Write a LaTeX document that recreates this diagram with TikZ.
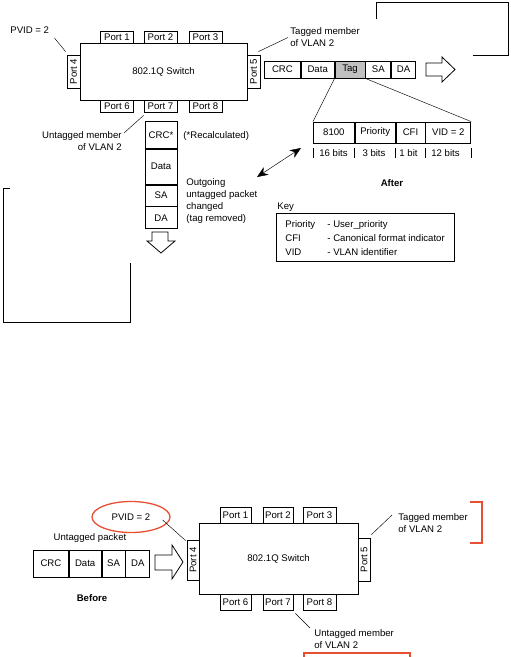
\documentclass[tikz,border=0pt]{standalone}
\usepackage{fontspec}
\setmainfont{Liberation Sans}
\usetikzlibrary{arrows.meta,shapes.geometric}
\definecolor{markred}{RGB}{232,78,48}
\definecolor{taggray}{RGB}{192,192,192}
\newcommand\diagfont{\fontsize{9.6}{12}\selectfont}

\begin{document}
\begin{tikzpicture}[x=1pt,y=-1pt,line width=0.8pt,font=\diagfont,
  every node/.style={inner sep=0pt},
  switchbox/.style={draw},
  port/.style={draw,fill=white,minimum width=33,minimum height=12},
  sideport/.style={port,rotate=90},
  cell/.style={draw,anchor=west,minimum height=17},
  vcell/.style={draw,anchor=north,minimum width=32},
  lead/.style={line width=0.45pt},
  redmark/.style={draw=markred,line width=1.3pt}]
\useasboundingbox (0,0) rectangle (511,657);

\node[switchbox,minimum width=167,minimum height=57] (swA) at (163.5,71.5) {802.1Q Switch};
\node[port] (p1A) at (117,37) {Port 1};
\node[port] (p2A) at (160.5,37) {Port 2};
\node[port] (p3A) at (205.5,37) {Port 3};
\node[port] (p6A) at (117,106) {Port 6};
\node[port] (p7A) at (160.5,106) {Port 7};
\node[port] (p8A) at (205.5,106) {Port 8};
\node[sideport,minimum height=13] (p4A) at (73.5,71.5) {Port 4};
\node[sideport,minimum height=13] (p5A) at (253.5,71.5) {Port 5};

\node[anchor=west] (pvidA) at (10,30) {PVID = 2};
\draw[lead] ([shift={(-1,-3)}]p4A.north east) -- ([shift={(5,8)}]pvidA.east);
\node[anchor=west,align=left] (tagTxtA) at (290,37.5) {Tagged member\\of VLAN 2};
\draw[lead] ([shift={(-2,-3)}]p5A.south east) -- ([shift={(-2,0)}]tagTxtA.west);
\node[anchor=east,align=right] (untTxtA) at (122,141) {Untagged member\\of VLAN 2};
\draw[lead] ([shift={(0,3)}]p7A.south west) -- ([shift={(2,-8)}]untTxtA.east);

\node[cell,minimum width=36] (crcA) at (264,69.5) {CRC};
\node[cell,minimum width=33] (dataA) at (crcA.east) {Data};
\node[cell,fill=taggray,minimum width=30] (tagA) at (dataA.east) {Tag};
\node[cell,minimum width=25] (saA) at (tagA.east) {SA};
\node[cell,minimum width=24] (daA) at (saA.east) {DA};
\draw (426,63) -- (442,63) -- (442,57) -- (455,69.5) -- (442,82) -- (442,76) -- (426,76) -- cycle;

\node[cell,minimum width=41,minimum height=21] (tpid) at (313,132.5) {8100};
\node[cell,minimum width=40,minimum height=21] (pri) at (tpid.east) {Priority};
\node[cell,minimum width=29,minimum height=21] (cfi) at (pri.east) {CFI};
\node[cell,minimum width=45,minimum height=21] (vid) at (cfi.east) {VID = 2};
\draw[lead] (tagA.south west) -- (tpid.north west);
\draw[lead] (tagA.south east) -- (vid.north east);
\foreach \f in {tpid,pri,cfi,vid} \draw (\f.south west) ++(0,5) -- ++(0,10);
\draw (vid.south east) ++(0,5) -- ++(0,10);
\node (b16) at (333.5,153) {16 bits};
\node (b3) at (374,153) {3 bits};
\node (b1) at (408.5,153) {1 bit};
\node (b12) at (445.5,153) {12 bits};

\node[vcell,minimum height=27] (crcC) at (161,121) {CRC*};
\node[vcell,minimum height=35] (dataC) at (crcC.south) {Data};
\node[vcell,minimum height=21] (saC) at (dataC.south) {SA};
\node[vcell,minimum height=22] (daC) at (saC.south) {DA};
\draw (152,232) -- (168,232) -- (168,241) -- (175,241) -- (161,253) -- (147,241) -- (152,241) -- cycle;
\node[anchor=west] (recalc) at (183,136) {(*Recalculated)};
\node[anchor=west,align=left] (outTxt) at (186,201) {Outgoing\\untagged packet\\changed\\(tag removed)};

\coordinate (dblA) at (257,177);
\coordinate (dblB) at (301,148);
\draw[lead,{Stealth[length=11pt,width=9pt]}-{Stealth[length=11pt,width=9pt]}] (dblA) -- (dblB);

\node[font=\diagfont\bfseries] (after) at (392,183) {After};
\node[anchor=west] (keyTitle) at (277,207) {Key};
\node[draw,anchor=north west,minimum width=178,minimum height=48] (keyBox) at (276,213) {};
\foreach \y/\a/\b in {225/Priority/- User\_priority,238/CFI/- Canonical format indicator,252/VID/- VLAN identifier} {
  \node[anchor=west] (keyL\y) at (285,\y) {\a};
  \node[anchor=west] (keyR\y) at (327,\y) {\b};
}

\draw (376,19) -- (376,2) -- (508,2) -- (508,55) -- (473,55);
\draw (10,188) -- (3,188) -- (3,322) -- (130,322) -- (130,263);

\node[redmark,ellipse,minimum width=78,minimum height=31] (pvidB) at (131,517) {PVID = 2};
\node (untPkt) at (90,538) {Untagged packet};
\node[cell,minimum width=35,minimum height=27] (crcB) at (33,563.5) {CRC};
\node[cell,minimum width=32,minimum height=27] (dataB) at (crcB.east) {Data};
\node[cell,minimum width=23,minimum height=27] (saB) at (dataB.east) {SA};
\node[cell,minimum width=24,minimum height=27] (daB) at (saB.east) {DA};
\draw (155,555) -- (172,555) -- (172,545) -- (183,562) -- (172,579) -- (172,570) -- (155,570) -- cycle;
\node[font=\diagfont\bfseries] (before) at (92,598) {Before};

\node[switchbox,minimum width=159,minimum height=71] (swB) at (278.5,558.5) {802.1Q Switch};
\node[port,minimum width=31,minimum height=16] (p1B) at (235.5,515) {Port 1};
\node[port,minimum width=30,minimum height=16] (p2B) at (278,515) {Port 2};
\node[port,minimum width=33,minimum height=16] (p3B) at (319.5,515) {Port 3};
\node[port,minimum width=31,minimum height=16] (p6B) at (235.5,602) {Port 6};
\node[port,minimum width=30,minimum height=16] (p7B) at (278,602) {Port 7};
\node[port,minimum width=33,minimum height=16] (p8B) at (319.5,602) {Port 8};
\node[sideport,minimum width=40,minimum height=12] (p4B) at (193,560) {Port 4};
\node[sideport,minimum width=43,minimum height=12] (p5B) at (364,559.5) {Port 5};
\draw[lead] ([shift={(-8,3)}]pvidB.east) -- ([shift={(-1,1)}]p4B.north east);

\node[anchor=west,align=left] (tagTxtB) at (398,523) {Tagged member\\of VLAN 2};
\draw[lead] ([shift={(1,-3)}]p5B.south east) -- ([shift={(-6,-8)}]tagTxtB.west);
\node[anchor=west,align=left] (untTxtB) at (314,639) {Untagged member\\of VLAN 2};
\draw[lead] ([shift={(2,3)}]p7B.south east) -- ([shift={(-4,-11)}]untTxtB.west);

\draw[redmark] (470,502) -- (482,502) -- (482,543) -- (470,543);
\draw[redmark] (304,657) -- (304,653) -- (410,653) -- (410,657);
\end{tikzpicture}
\end{document}
